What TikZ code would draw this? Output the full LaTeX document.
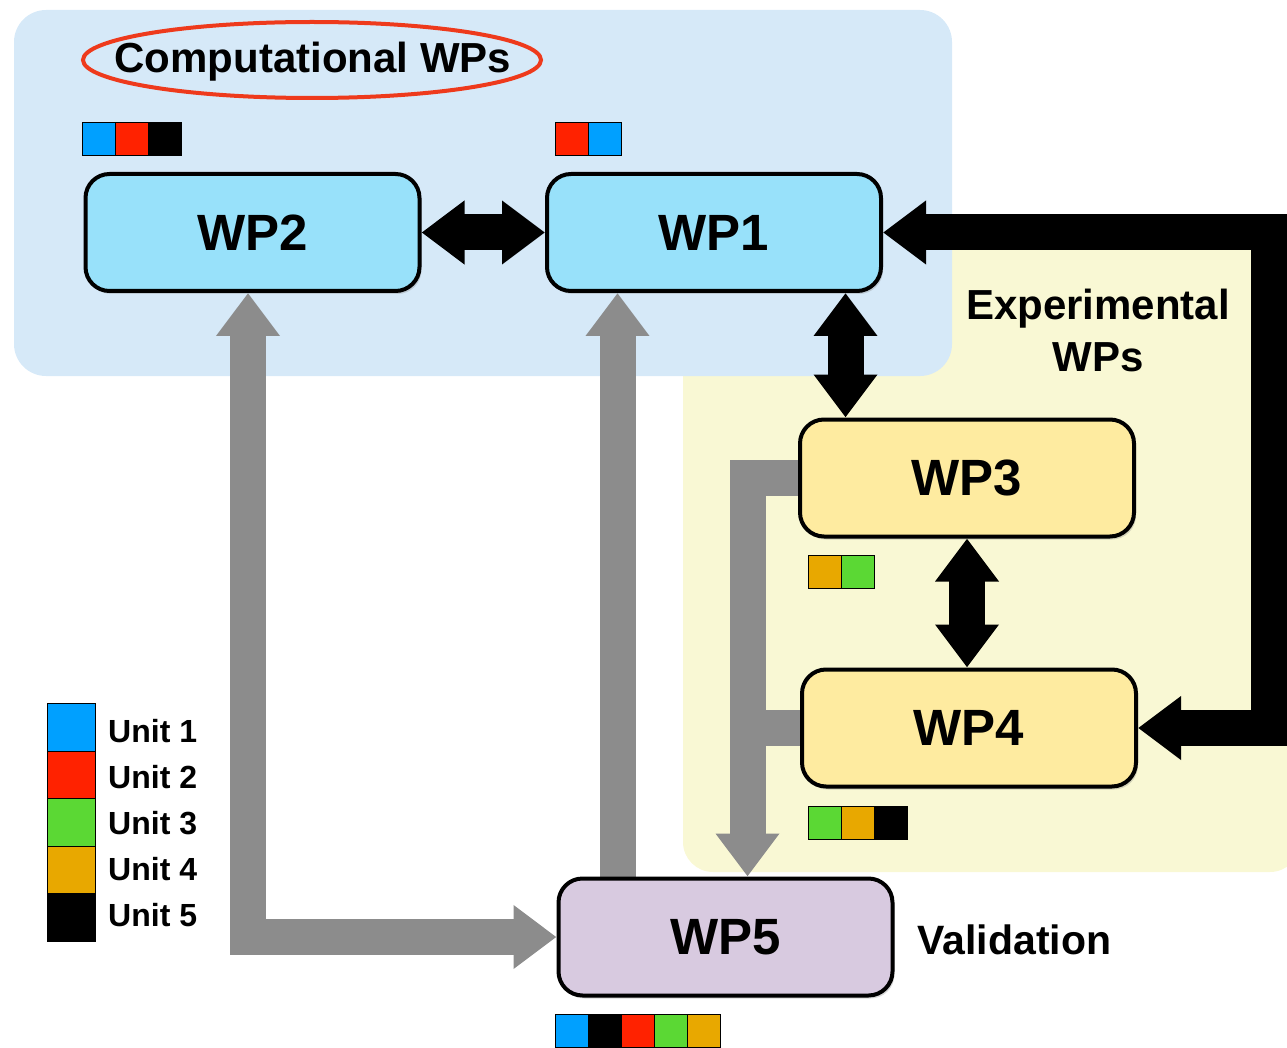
\documentclass[tikz,border=0pt]{standalone}
\usepackage{fontspec}
\setmainfont{Liberation Sans}
\usetikzlibrary{arrows.meta,shadows,backgrounds,positioning}

\definecolor{compbg}{HTML}{D6E9F8}
\definecolor{expbg}{HTML}{F9F8D4}
\definecolor{compfill}{HTML}{98E1FA}
\definecolor{expfill}{HTML}{FEEBA0}
\definecolor{valfill}{HTML}{D8CAE0}
\definecolor{flowgray}{HTML}{8C8C8C}
\definecolor{ringred}{HTML}{EE3A1C}
\definecolor{uone}{HTML}{00A0FF}
\definecolor{utwo}{HTML}{FF2200}
\definecolor{uthree}{HTML}{5BD834}
\definecolor{ufour}{HTML}{E8A800}
\definecolor{ufive}{HTML}{000000}

\pgfdeclarelayer{links}
\pgfsetlayers{background,links,main}

\begin{document}
\begin{tikzpicture}[x=1pt,y=-1pt,
  >={Triangle[length=43pt,width=61pt]},
  wp/.style={rectangle,draw,line width=4pt,rounded corners=24pt,
    minimum width=334pt,minimum height=117pt,
    font=\fontsize{51}{56}\selectfont\bfseries,
    drop shadow={shadow xshift=2pt,shadow yshift=-3pt,opacity=0.3}},
  blk/.style={line width=36pt,black},
  gry/.style={line width=36pt,flowgray},
  usq/.style={rectangle,draw,line width=1pt,minimum width=33pt,minimum height=33pt,inner sep=0pt},
  lsq/.style={rectangle,draw,line width=1pt,minimum width=48pt,minimum height=47.5pt,inner sep=0pt},
  lbl/.style={font=\fontsize{42}{52}\selectfont\bfseries,align=center},
  unitlbl/.style={font=\fontsize{32}{36}\selectfont\bfseries,anchor=west,inner sep=0pt}]
\useasboundingbox (0,0) rectangle (1287,1048);

% panels
\begin{pgfonlayer}{background}
\fill[expbg,rounded corners=30pt] (683,250) rectangle (1300,872);
\fill[compbg,rounded corners=32pt] (14,10) rectangle (952,376);
\end{pgfonlayer}

% title
\node[lbl,anchor=base] (title) at (313,73) {Computational WPs};
\draw[ringred,line width=4pt] (312,60) ellipse [x radius=229pt,y radius=38pt];

% work packages
\node[wp,fill=compfill] (wp2) at (252.5,232.5) {WP2};
\node[wp,fill=compfill] (wp1) at (714,232.5) {WP1};
\node[wp,fill=expfill] (wp3) at (967,478) {WP3};
\node[wp,fill=expfill] (wp4) at (969,728) {WP4};
\node[wp,fill=valfill] (wp5) at (725.5,937) {WP5};

\node[lbl] (exp) at (1098,330) {Experimental\\WPs};
\node[lbl,font=\fontsize{41}{48}\selectfont\bfseries,anchor=west] (val) at (914,940) {Validation};

% unit strips
\foreach \c [count=\i] in {uone,utwo,ufive}
  \node[usq,fill=\c] (s2-\i) at (82+33*\i-16.5,139) {};
\foreach \c [count=\i] in {utwo,uone}
  \node[usq,fill=\c] (s1-\i) at (555+33*\i-16.5,139) {};
\foreach \c [count=\i] in {ufour,uthree}
  \node[usq,fill=\c] (s3-\i) at (808+33*\i-16.5,571.5) {};
\foreach \c [count=\i] in {uthree,ufour,ufive}
  \node[usq,fill=\c] (s4-\i) at (808+33*\i-16.5,823) {};
\foreach \c [count=\i] in {uone,ufive,utwo,uthree,ufour}
  \node[usq,fill=\c] (s5-\i) at (555+33*\i-16.5,1031) {};

% legend
\foreach \c [count=\i] in {uone,utwo,uthree,ufour,ufive}{
  \node[lsq,fill=\c] (leg\i) at (71,680+47.5*\i) {};
  \node[unitlbl] (legtxt\i) at (108,685+46*\i) {Unit \i};
}

% links
\begin{pgfonlayer}{links}
\draw[blk,<->] (wp2.east) -- (wp1.west);
\draw[blk,<->] ([xshift=131.5pt]wp1.south) -- ([xshift=131.5pt]wp1.south |- wp3.north);
\draw[blk,<->] (wp3.south) -- (wp3.south |- wp4.north);
\coordinate (loop) at (1269,232.5);
\draw[blk,<->] (wp4.east) -| (loop) -- (wp1.east);

\draw[gry,<->] (wp5.west) -| ([xshift=-4.5pt]wp2.south);
\coordinate (up1) at ([xshift=-108pt]wp5.north);
\draw[gry,->] (up1) -- (up1 |- wp1.south);
\coordinate (down5) at ([xshift=22pt]wp5.north);
\draw[gry,->] (wp3.west) -| (down5);
\draw[gry] (wp4.west) -- (wp4.west -| down5);
\end{pgfonlayer}
\end{tikzpicture}
\end{document}
